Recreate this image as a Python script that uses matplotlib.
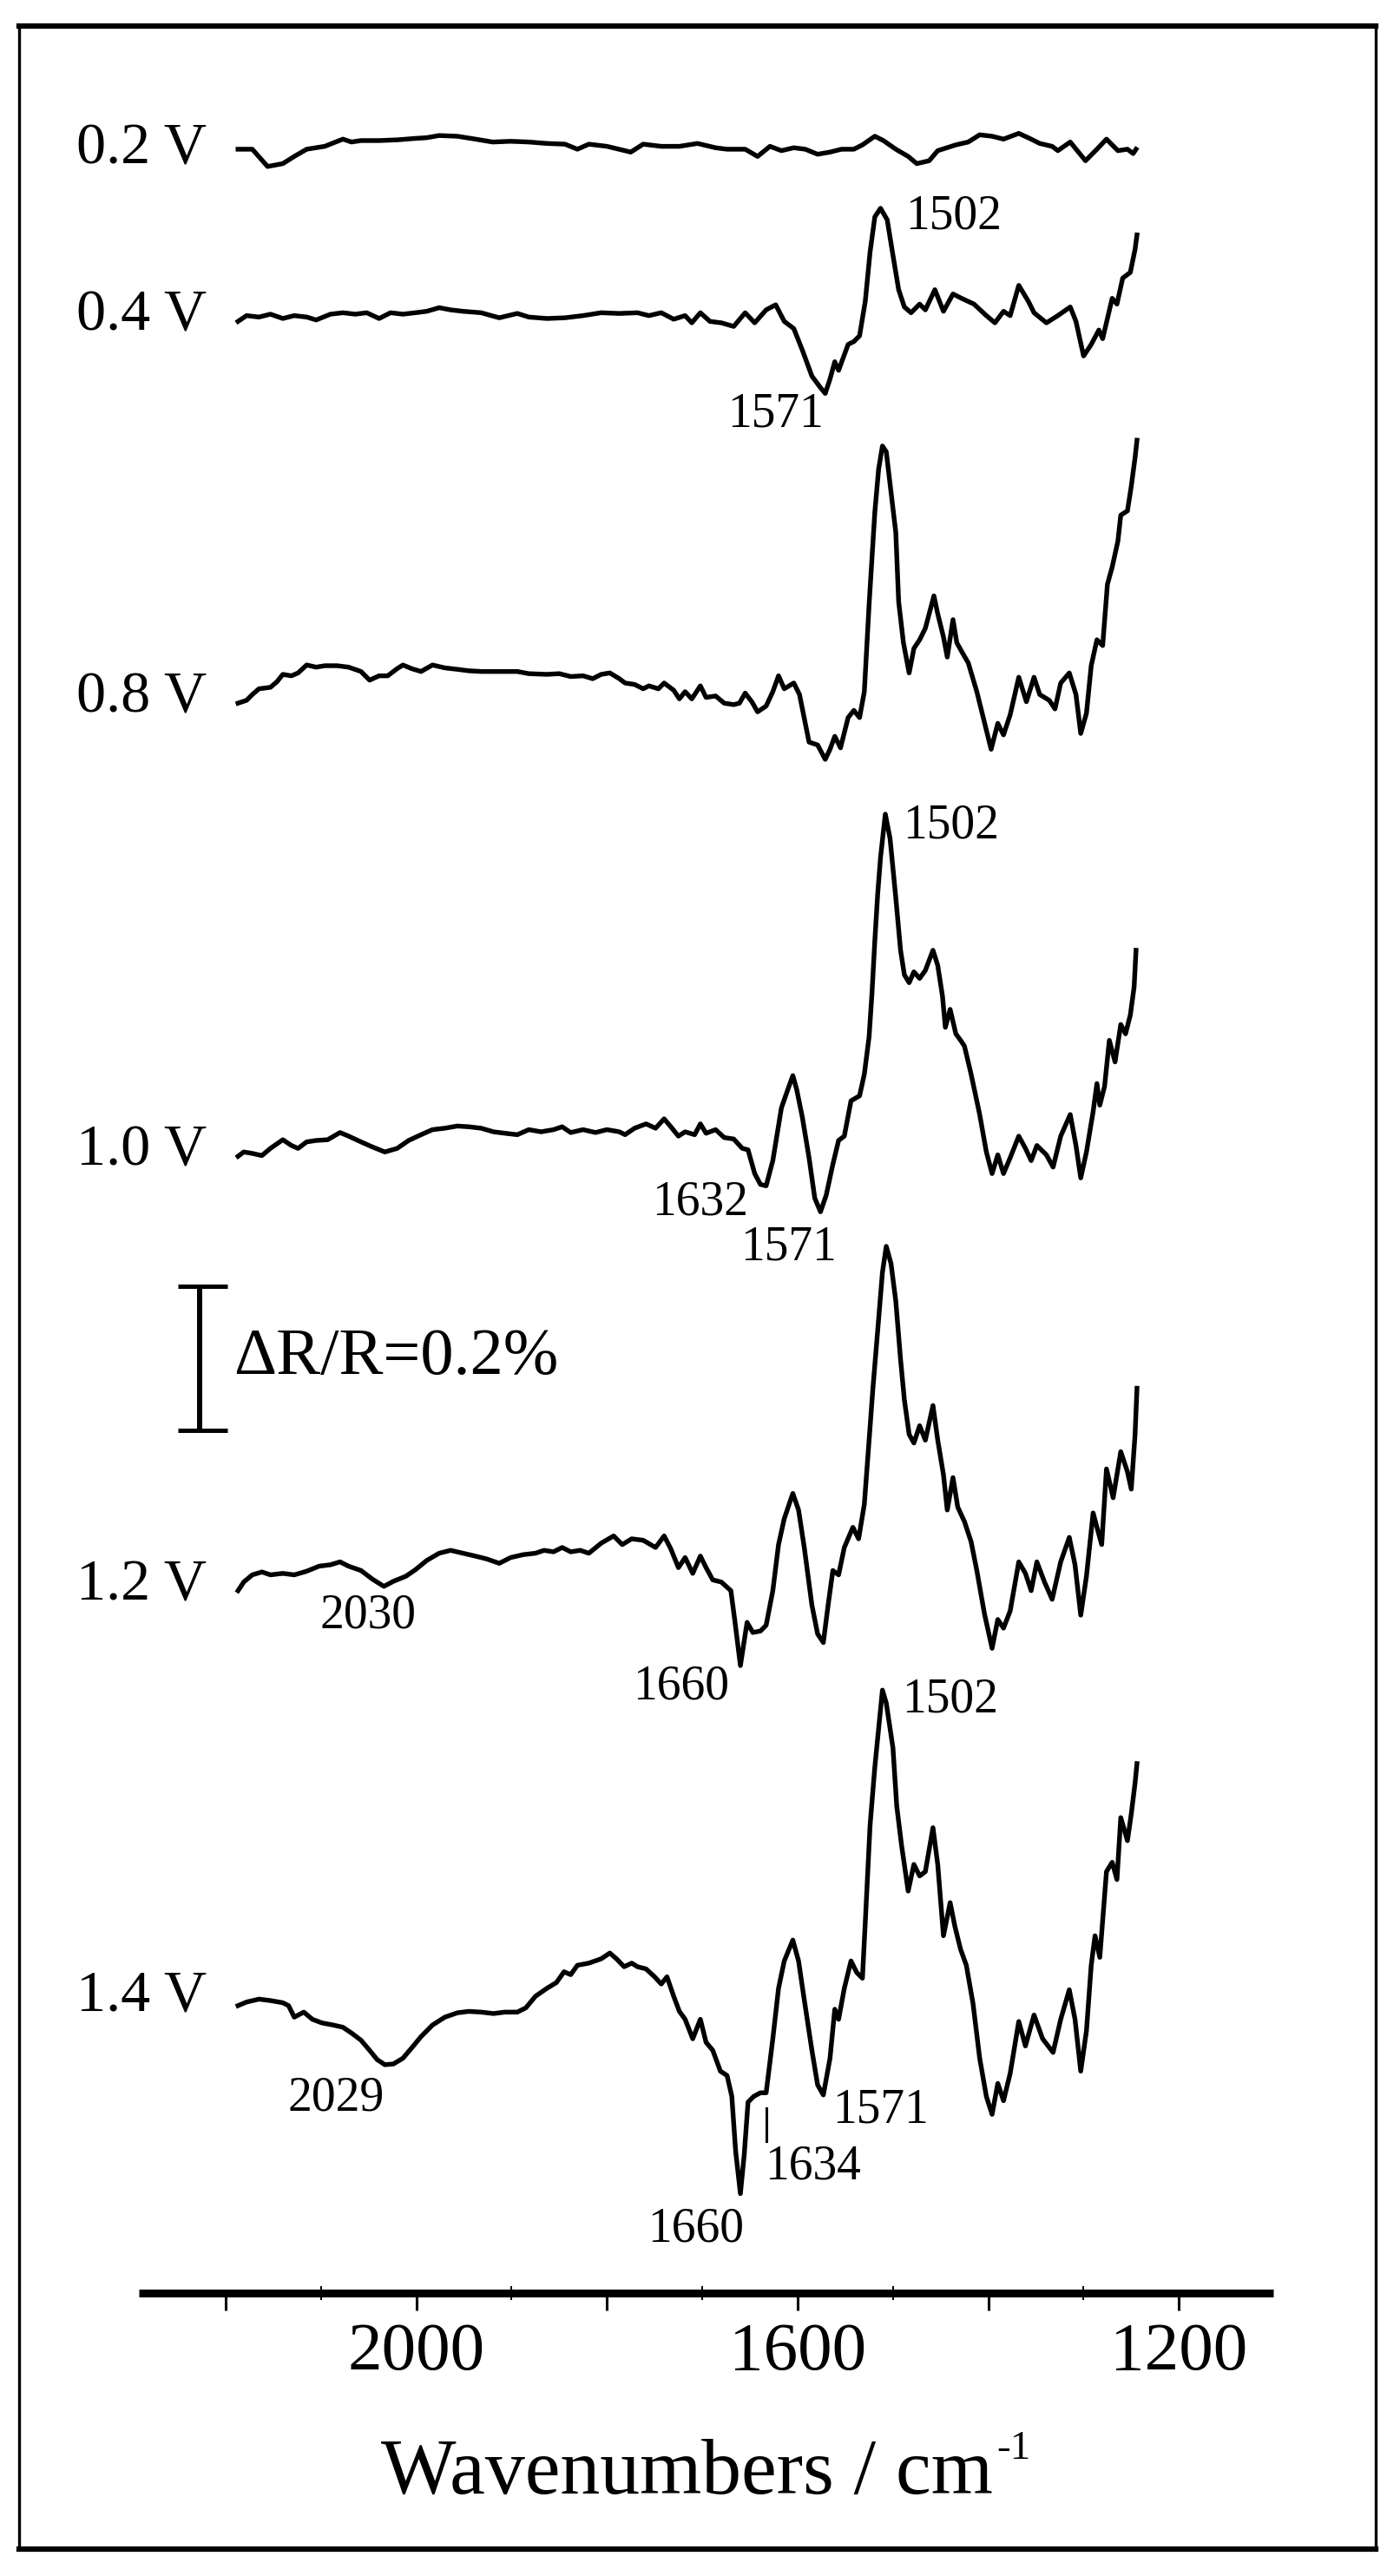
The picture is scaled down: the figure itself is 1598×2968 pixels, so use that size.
import numpy as np
import matplotlib
matplotlib.use("Agg")
import matplotlib.pyplot as plt
from matplotlib.patches import Rectangle
from matplotlib.lines import Line2D

plt.rcParams['font.family'] = ['Liberation Serif', 'DejaVu Serif']

# ---------------- data (ΔR/R in units of 0.01 %, relative to the start of each trace) -------------
potentials = ["0.2 V", "0.4 V", "0.8 V", "1.0 V", "1.2 V", "1.4 V"]

wn_02 = [2187,2172,2156,2140,2128,2115,2096,2077,2068,2058,2039,2020,2001,1989,1976,1957,1938,1920,1901,1882,
         1863,1844,1831,1819,1800,1775,1762,1743,1724,1705,1686,1674,1655,1642,1629,1617,1604,1592,1579,1566,
         1554,1541,1532,1519,1510,1497,1484,1475,1462,1453,1434,1421,1409,1396,1384,1368,1355,1346,1333,1327,
         1314,1298,1286,1276,1264,1254,1248,1245]
dr_02 = [0,0,-2.4,-2.0,-1.0,0,0.4,1.4,1.0,1.2,1.2,1.3,1.5,1.6,1.9,1.8,1.4,1.0,1.1,1.0,
         0.8,0.7,0,0.7,0.4,-0.4,0.7,0.4,0.4,0.8,0.2,0,0,-1.0,0.4,-0.2,0.2,0,-0.7,-0.4,
         0,0,0.6,1.8,1.2,0,-1.0,-2.0,-1.6,-0.2,0.6,1.0,2.0,1.8,1.4,2.2,1.4,0.8,0.4,-0.2,
         1.0,-1.6,0,1.4,-0.2,0,-0.6,0]

wn_04 = [2187,2178,2165,2153,2140,2128,2115,2105,2090,2077,2064,2052,2039,2027,2014,2001,1989,1976,1964,1951,
         1932,1913,1894,1882,1863,1844,1825,1806,1787,1768,1756,1743,1730,1718,1711,1702,1692,1680,1667,1655,
         1645,1633,1623,1614,1604,1595,1585,1576,1571,1566,1561,1557,1547,1541,1535,1529,1524,1519,1513,1506,
         1500,1494,1488,1481,1472,1466,1456,1447,1437,1428,1415,1402,1393,1384,1377,1368,1358,1352,1339,1327,
         1314,1308,1300,1292,1284,1280,1270,1265,1259,1251,1246,1244]
dr_04 = [0,0.8,0.6,1.0,0.4,0.8,0.6,0.2,1.0,1.2,1.0,1.2,0.4,1.2,1.0,1.2,1.4,1.9,1.6,1.4,
         1.2,0.5,1.1,0.6,0.4,0.5,0.8,1.2,1.1,1.2,0.8,1.2,0.3,0.8,-0.2,1.2,0,-0.2,-0.7,1.2,
         -0.2,1.6,2.3,0,-1.0,-4.0,-7.6,-9.2,-10.0,-8.0,-5.6,-6.8,-3.2,-2.8,-2.0,2.8,9.6,14.5,15.7,14.1,
         9.2,4.4,2.0,1.2,2.4,1.6,4.4,1.4,3.8,3.2,2.4,0.8,-0.2,1.4,0.8,5.0,2.8,1.2,-0.2,0.8,
         2.0,0,-4.8,-3.2,-1.2,-2.4,3.2,2.4,6.0,6.8,10.0,12.0]

wn_08 = [2187,2178,2172,2165,2153,2146,2140,2131,2124,2115,2105,2096,2083,2071,2058,2049,2039,2030,2020,2014,
         2005,1995,1983,1970,1957,1945,1932,1913,1894,1882,1863,1850,1838,1825,1815,1806,1797,1787,1781,1771,
         1762,1756,1746,1740,1730,1724,1718,1711,1702,1696,1686,1677,1667,1661,1655,1648,1642,1633,1626,1620,
         1614,1604,1598,1588,1579,1571,1566,1561,1555,1547,1541,1535,1530,1525,1522,1519,1515,1511,1507,1502,
         1497,1494,1489,1483,1478,1472,1466,1457,1453,1447,1443,1437,1433,1428,1421,1412,1406,1397,1390,1384,
         1377,1368,1360,1352,1346,1336,1330,1324,1315,1308,1303,1297,1292,1286,1280,1275,1270,1264,1261,1254,
         1250,1246,1244]
dr_08 = [0,0.4,1.2,2.0,2.2,3.0,4.0,3.8,4.2,5.3,5.0,5.2,5.2,5.0,4.4,3.2,3.8,3.8,4.8,5.3,
         4.8,4.4,5.3,4.9,4.7,4.5,4.4,4.4,4.4,4.1,4.0,4.1,3.7,3.8,3.4,4.0,4.2,3.4,2.8,2.6,
         2.0,2.4,2.0,2.8,1.8,0.6,1.6,0.6,2.4,0.8,1.0,0,-0.2,0,1.4,0.2,-1.2,-0.4,1.6,3.8,
         2.0,2.8,1.2,-5.4,-5.8,-7.8,-6.4,-4.6,-6.2,-2.0,-1.0,-2.0,1.6,13.7,20.1,26.5,32.5,35.7,34.9,29.3,
         23.7,14.1,8.4,4.2,7.6,8.8,10.4,14.9,12.4,9.2,6.4,11.6,8.4,7.2,5.6,1.6,-1.6,-6.4,-2.8,-4.4,
         -1.6,3.6,0.2,3.6,1.2,0.4,-0.8,2.8,4.2,1.2,-4.2,-1.4,5.2,8.8,8.0,16.5,18.9,22.5,26.1,26.7,
         30.1,34.1,36.5]

wn_10 = [2187,2181,2172,2162,2153,2140,2131,2124,2115,2105,2093,2080,2071,2058,2046,2033,2020,2008,1995,1983,
         1970,1957,1945,1932,1919,1907,1894,1882,1869,1856,1847,1838,1825,1812,1800,1787,1781,1771,1759,1749,
         1740,1733,1725,1718,1708,1702,1696,1686,1677,1667,1658,1652,1645,1639,1633,1626,1617,1611,1605,1601,
         1595,1588,1582,1576,1570,1563,1557,1551,1544,1535,1530,1525,1522,1519,1516,1513,1508,1503,1497,1492,
         1488,1483,1478,1472,1466,1458,1453,1448,1445,1440,1434,1429,1425,1418,1409,1402,1396,1390,1384,1377,
         1368,1361,1355,1349,1339,1332,1324,1314,1308,1303,1297,1290,1286,1283,1278,1273,1267,1261,1256,1251,
         1247,1245]
dr_10 = [0,0.6,0.4,0.1,1.1,2.3,1.5,1.1,2.0,2.2,2.3,3.3,2.8,2.0,1.3,0.6,1.1,2.2,3.0,3.7,
         3.9,4.2,4.1,3.9,3.4,3.2,3.0,3.7,3.4,3.7,4.1,3.3,3.7,3.3,3.7,3.4,3.0,3.9,4.5,3.9,
         5.2,4.1,2.8,3.4,3.0,4.5,3.2,3.7,2.6,2.4,1.1,0.9,-2.4,-3.9,-4.1,-0.6,6.7,9.0,11.2,9.3,
         5.4,-0.2,-5.8,-7.7,-5.4,-1.1,2.2,2.8,7.7,8.4,11.4,16.6,22.6,29.9,36.4,41.5,47.5,44.1,35.9,28.6,
         25.2,24.1,25.6,24.7,25.8,28.6,26.5,22.2,17.9,20.4,17.0,16.1,15.3,11.4,5.8,0.6,-2.4,0.2,-2.4,-0.2,
         2.8,1.1,-0.6,1.5,0.2,-1.5,2.8,5.8,1.5,-3.0,0.6,6.2,10.1,7.1,9.7,16.1,13.1,18.3,17.0,19.6,
         23.5,28.6]

wn_12 = [2187,2181,2172,2162,2153,2140,2128,2115,2102,2090,2080,2071,2058,2046,2034,2024,2011,2001,1989,1976,
         1964,1951,1938,1926,1913,1901,1888,1875,1866,1856,1847,1838,1828,1819,1806,1793,1784,1774,1762,1749,
         1740,1733,1725,1718,1710,1702,1696,1689,1680,1670,1666,1660,1653,1647,1639,1633,1626,1620,1614,1605,
         1599,1593,1585,1579,1573,1568,1563,1557,1551,1542,1536,1530,1525,1521,1516,1511,1507,1502,1497,1492,
         1488,1483,1478,1472,1466,1458,1453,1447,1443,1437,1432,1425,1418,1412,1404,1396,1390,1384,1377,1368,
         1361,1355,1349,1341,1333,1324,1315,1309,1303,1297,1290,1286,1281,1276,1269,1261,1254,1250,1246,1244]
dr_12 = [0,1.2,2.2,2.6,2.2,2.4,2.2,2.7,3.4,3.6,4.0,3.4,2.8,1.6,0.6,1.3,2.0,2.9,4.2,5.2,
         5.6,5.2,4.8,4.4,3.8,4.6,5.0,5.2,5.6,5.4,6.0,5.4,5.6,5.2,6.6,7.6,6.4,7.2,7.0,6.0,
         7.6,5.8,3.2,4.6,2.4,4.8,3.2,1.5,1.2,0,-4.0,-10.4,-4.4,-5.8,-5.6,-4.8,0,6.4,10.0,13.5,
         11.2,6.0,-2.0,-6.0,-7.2,-2.0,2.8,2.2,6.0,8.8,7.2,12.0,20.9,28.1,36.1,44.2,47.8,45.4,40.2,32.1,
         26.5,21.7,20.5,22.9,20.9,25.7,20.9,16.1,11.2,15.7,11.6,9.6,6.8,2.8,-3.2,-8.0,-4.0,-5.2,-2.8,4.0,
         2.4,0,4.0,1.2,-1.2,4.0,7.4,3.6,-3.4,2.0,10.8,8.8,6.4,16.9,12.9,19.3,16.5,14.1,21.7,28.1]

wn_14 = [2187,2178,2165,2153,2140,2134,2128,2118,2109,2099,2087,2077,2068,2058,2049,2041,2033,2024,2014,2005,
         1995,1983,1970,1957,1945,1932,1919,1907,1894,1885,1875,1863,1853,1845,1838,1831,1819,1806,1797,1790,
         1782,1774,1768,1759,1750,1743,1737,1730,1724,1718,1710,1702,1696,1689,1681,1674,1669,1665,1660,1656,
         1652,1646,1639,1633,1626,1620,1614,1605,1599,1593,1585,1579,1573,1566,1561,1557,1551,1544,1538,1532,
         1529,1524,1519,1515,1511,1507,1500,1496,1491,1484,1478,1472,1466,1458,1453,1447,1440,1435,1429,1423,
         1416,1409,1402,1396,1390,1384,1377,1368,1361,1352,1343,1332,1324,1315,1309,1303,1297,1292,1288,1283,
         1276,1270,1265,1261,1254,1250,1246,1244]
dr_14 = [0,0.5,0.9,0.7,0.4,0,-1.6,-0.9,-1.9,-2.4,-2.7,-3.0,-3.8,-4.8,-6.2,-7.5,-8.2,-8.1,-7.3,-5.9,
         -4.3,-2.7,-1.6,-1.0,-0.8,-0.9,-1.1,-0.9,-0.9,-0.3,1.3,2.4,3.2,4.7,4.3,5.6,5.9,6.5,7.3,6.5,
         5.4,5.9,5.4,5.1,4.0,3.0,4.0,1.3,-0.8,-1.9,-4.6,-1.9,-5.1,-6.2,-9.1,-9.7,-12.6,-20.2,-26.1,-20.7,
         -13.4,-12.6,-12.1,-12.1,-4.6,2.4,6.2,9.1,6.2,0.8,-6.2,-11.0,-12.4,-7.3,-0.5,-1.9,2.4,6.2,4.6,3.8,
         11.6,25.0,33.1,38.5,43.8,42.0,35.8,27.7,22.3,15.9,19.6,18.0,18.6,24.7,19.6,9.7,14.3,11.0,7.8,5.6,
         0.3,-7.3,-12.6,-15.1,-10.8,-13.2,-9.4,-2.2,-5.6,-1.3,-4.6,-6.5,-1.9,2.2,-1.9,-9.1,-3.5,5.6,9.7,6.7,
         18.6,19.9,17.5,26.1,22.9,26.6,30.9,33.6]

scale_bar_value = 20  # 0.2 % in units of 0.01 %

major_ticks = [2200, 2000, 1800, 1600, 1400, 1200]
major_labels = ["", "2000", "", "1600", "", "1200"]
minor_ticks = [2100, 1900, 1700, 1500, 1300]

peak_texts = ["1502", "1571", "1502", "1632", "1571", "2030", "1660", "1502", "2029", "1660", "1634", "1571"]

# ---------------- layout ----------------
W, H = 1598, 2968
fig = plt.figure(figsize=(W / 100, H / 100), dpi=100)
ax_left, ax_right, ax_bottom, ax_top = 160, 1467, 2642, 100   # pixels
ax = fig.add_axes([ax_left / W, 1 - ax_bottom / H, (ax_right - ax_left) / W, (ax_bottom - ax_top) / H])
ax.set_xlim(2291, 1101)
px_per_unit = 8.3
ax.set_ylim(0, (ax_bottom - ax_top) / px_per_unit)

offsets = [297.6, 273.7, 220.7, 157.8, 97.5, 39.9]
label_y = [297.6, 274.5, 221.4, 158.6, 98.2, 41.2]
series = [(wn_02, dr_02), (wn_04, dr_04), (wn_08, dr_08), (wn_10, dr_10), (wn_12, dr_12), (wn_14, dr_14)]

for (wn, dr), off, lab, ly in zip(series, offsets, potentials, label_y):
    assert len(wn) == len(dr), (lab, len(wn), len(dr))
    ax.plot(wn, off + np.asarray(dr), color='black', lw=3.9, solid_joinstyle='round')
    ax.text(2220, ly, lab, ha='right', va='center', fontsize=49, clip_on=False)

peak_pos = [(1436, 288.3), (1623, 260.8), (1439, 203.7), (1702, 151.4), (1609, 145.1), (2051, 94.0),
            (1722, 84.2), (1440, 82.4), (2084, 27.0), (1707, 8.9), (1584, 17.5), (1513, 25.4)]
for t, (x, y) in zip(peak_texts, peak_pos):
    ax.text(x, y, t, ha='center', va='center', fontsize=40, clip_on=False)
ax.plot([1633, 1633], [21.1, 25.7], color='black', lw=2.2)

# scale bar
sb_x, sb_bottom = 2227, 119.8
ax.plot([sb_x, sb_x], [sb_bottom, sb_bottom + scale_bar_value], color='black', lw=4.3, solid_capstyle='butt')
for yy in (sb_bottom, sb_bottom + scale_bar_value):
    ax.plot([2250, 2198], [yy, yy], color='black', lw=3.6, solid_capstyle='butt')
ax.text(2192, sb_bottom + scale_bar_value / 2, "ΔR/R=0.2%", ha='left', va='center', fontsize=55)

# axis styling
for s in ('top', 'left', 'right'):
    ax.spines[s].set_visible(False)
ax.spines['bottom'].set_linewidth(6.5)
ax.spines['bottom'].set_capstyle('butt')
ax.set_xticks(major_ticks)
ax.set_xticklabels(major_labels)
ax.set_xticks(minor_ticks, minor=True)
ax.tick_params(axis='x', which='major', direction='out', length=14.4, width=2.2, pad=10, labelsize=57)
ax.tick_params(axis='x', which='minor', direction='inout', length=11.5, width=1.4)
ax.tick_params(axis='y', left=False, labelleft=False)
ax.patch.set_alpha(0)

# x-axis title with a small raised "-1"
main = fig.text(0, 1 - 2873 / H, "Wavenumbers / cm", ha='left', va='baseline', fontsize=66)
sup = fig.text(0, 1 - 2833 / H, "-1", ha='left', va='baseline', fontsize=34)
r = fig.canvas.get_renderer()
w1 = main.get_window_extent(r).width
w2 = sup.get_window_extent(r).width
gap = 4
x0 = 813 - (w1 + gap + w2) / 2
main.set_x(x0 / W)
sup.set_x((x0 + w1 + gap) / W)

# outer frame
fig.add_artist(Rectangle((22 / W, 1 - 2937 / H), (1585 - 22) / W, (2937 - 30) / H,
                         transform=fig.transFigure, fill=False, edgecolor='black', lw=2.4))
for yy in (30, 2937):
    fig.add_artist(Line2D([22 / W, 1585 / W], [1 - yy / H, 1 - yy / H], transform=fig.transFigure,
                          color='black', lw=4.5))

fig.savefig("out.png", dpi=100, facecolor='white')
